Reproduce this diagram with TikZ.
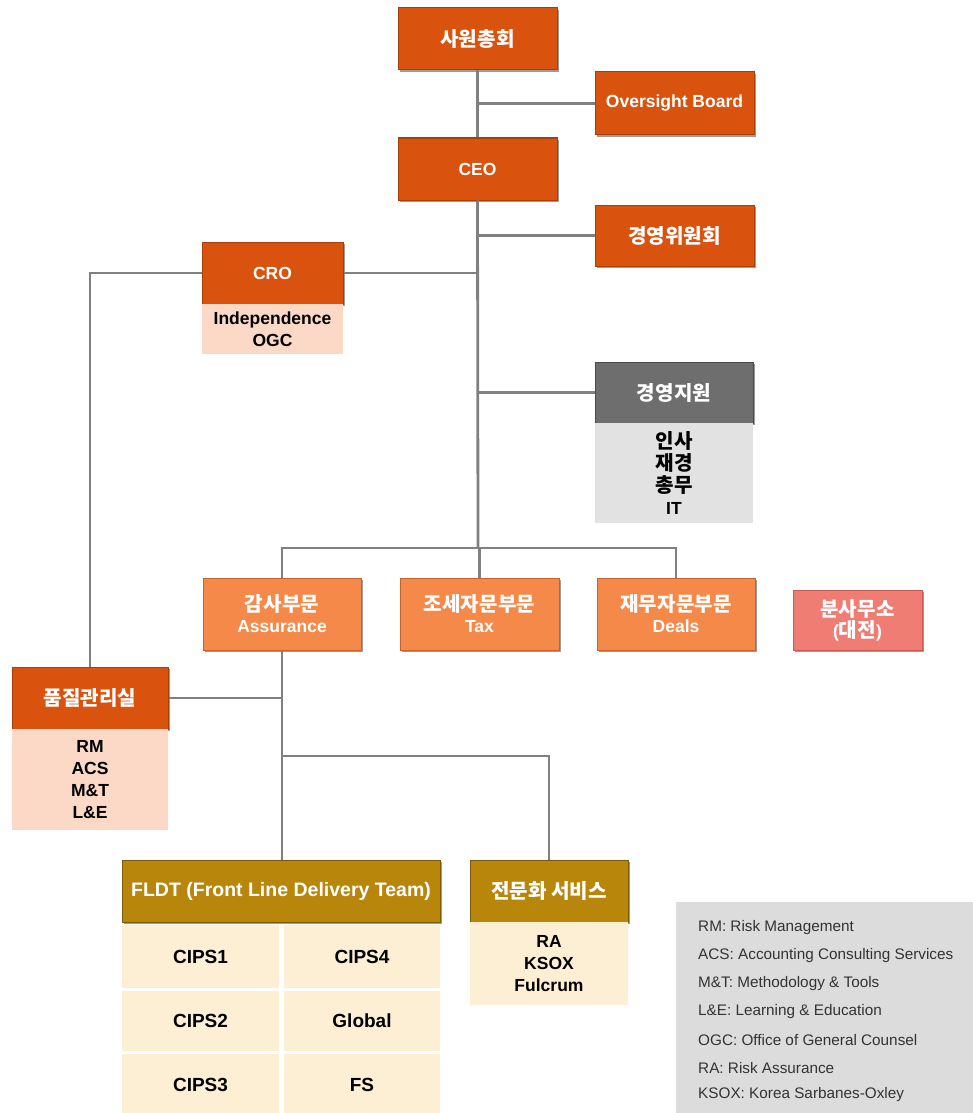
\documentclass[tikz,border=0pt]{standalone}
\usepackage{fontspec}
\setmainfont{Liberation Sans}
\newfontfamily\kr[Scale=1.15]{Noto Sans CJK KR}
\usetikzlibrary{shadows}
\definecolor{darkor}{HTML}{D9530F}
\definecolor{darkorB}{HTML}{A83E08}
\definecolor{lightor}{HTML}{F5894A}
\definecolor{lightorB}{HTML}{C8622A}
\definecolor{salmon}{HTML}{EF7D74}
\definecolor{salmonB}{HTML}{C85A55}
\definecolor{peach}{HTML}{FCD9C6}
\definecolor{gray1}{HTML}{6E6E6E}
\definecolor{gray1B}{HTML}{4A4A4A}
\definecolor{lgray}{HTML}{E2E2E2}
\definecolor{gold}{HTML}{B9860C}
\definecolor{goldB}{HTML}{7E5A05}
\definecolor{cream}{HTML}{FDEFD3}
\definecolor{legbg}{HTML}{DCDCDC}
\definecolor{conn}{HTML}{808080}
\tikzset{
  hbox/.style={rectangle, minimum width=#1, inner sep=0pt, align=center,
     text=white, font=\bfseries\fontsize{17.5}{21}\selectfont,
     drop shadow={shadow xshift=1.8pt, shadow yshift=-1.8pt, fill=black!55, opacity=.7}},
  dark/.style={hbox=#1, fill=darkor, draw=darkorB, line width=1pt},
  light/.style={hbox=#1, fill=lightor, draw=lightorB, line width=1pt},
  salm/.style={hbox=#1, fill=salmon, draw=salmonB, line width=1pt},
  grayb/.style={hbox=#1, fill=gray1, draw=gray1B, line width=1pt},
  goldb/.style={hbox=#1, fill=gold, draw=goldB, line width=1pt},
  sub/.style={rectangle, minimum width=#1, inner sep=0pt, align=center,
     text=black, font=\bfseries\fontsize{17.5}{22}\selectfont},
  cell/.style={sub=#1, fill=cream, font=\bfseries\fontsize{19}{22}\selectfont},
  conline/.style={draw=conn, line width=2.8pt},
  legtxt/.style={anchor=west, inner sep=0pt, text=black!80, font=\fontsize{15.3}{17}\selectfont}
}
\begin{document}
\begin{tikzpicture}[x=1pt,y=-1pt]
\useasboundingbox (0,0) rectangle (973,1113);
\clip (0,0) rectangle (973,1113);
\fill[white] (0,0) rectangle (973,1113);

\coordinate (bus) at (478,548);
\coordinate (qbr) at (282,700);
\coordinate (sbr) at (282,756);

% nodes
\node[dark=159pt, minimum height=62pt] (ga) at (477.5,39) {\kr 사원총회};
\node[dark=159pt, minimum height=63pt] (ob) at (674.5,103.5) {Oversight Board};
\node[dark=159pt, minimum height=62pt] (ceo) at (477.5,169) {CEO};
\node[dark=159pt, minimum height=61pt] (mc) at (674.5,235.5) {\kr 경영위원회};
\node[dark=141pt, minimum height=62pt] (cro) at (272.5,273) {CRO};
\node[sub=141pt, minimum height=50pt, fill=peach] (crosub) at (272.5,329) {Independence\\OGC};
\node[grayb=158pt, minimum height=61pt] (ms) at (674,392.5) {\kr 경영지원};
\node[sub=158pt, minimum height=100pt, fill=lgray] (mssub) at (674,473) {{\kr 인사}\\{\kr 재경}\\{\kr 총무}\\IT};
\node[light=158pt, minimum height=72pt] (aud) at (282,614) {{\kr 감사부문}\\Assurance};
\node[light=159pt, minimum height=72pt] (tax) at (479.5,614) {{\kr 조세자문부문}\\Tax};
\node[light=158pt, minimum height=72pt] (deals) at (676,614) {{\kr 재무자문부문}\\Deals};
\node[salm=129pt, minimum height=60pt] (br) at (857.5,620) {{\kr 분사무소}\\({\kr 대전})};
\node[dark=156pt, minimum height=62pt] (qm) at (90,698) {\kr 품질관리실};
\node[sub=156pt, minimum height=101pt, fill=peach] (qmsub) at (90,779.5) {RM\\ACS\\M\&T\\L\&E};
\node[goldb=318pt, minimum height=62pt, font=\bfseries\fontsize{19.5}{22}\selectfont] (fldt) at (281,891) {FLDT (Front Line Delivery Team)};
\node[goldb=158pt, minimum height=62pt] (spec) at (549,891) {\kr 전문화 서비스};
\node[sub=158pt, minimum height=83pt, fill=cream] (specsub) at (549,963.5) {RA\\KSOX\\Fulcrum};
\node[cell=157pt, minimum height=63pt] (c1) at (200.5,956.5) {CIPS1};
\node[cell=156pt, minimum height=63pt] (c4) at (362,956.5) {CIPS4};
\node[cell=157pt, minimum height=60pt] (c2) at (200.5,1021) {CIPS2};
\node[cell=156pt, minimum height=60pt] (c5) at (362,1021) {Global};
\node[cell=157pt, minimum height=62pt] (c3) at (200.5,1085) {CIPS3};
\node[cell=156pt, minimum height=62pt] (c6) at (362,1085) {FS};

% legend
\node[rectangle, fill=legbg, minimum width=304pt, minimum height=218pt, inner sep=0pt, anchor=north west] (leg) at (676,902) {};
\node[legtxt] (l1) at (698,928) {RM: Risk Management};
\node[legtxt] (l2) at (698,956) {ACS: Accounting Consulting Services};
\node[legtxt] (l3) at (698,984) {M\&T: Methodology \& Tools};
\node[legtxt] (l4) at (698,1012) {L\&E: Learning \& Education};
\node[legtxt] (l5) at (698,1040) {OGC: Office of General Counsel};
\node[legtxt] (l6) at (698,1068) {RA: Risk Assurance};
\node[legtxt] (l7) at (698,1095) {KSOX: Korea Sarbanes-Oxley};

% connectors
\draw[conline] (ga.south) -- (ceo.north);
\draw[conline] (ob.west) -- (ob.west -| ga.south);
\draw[conline] (ceo.south) -- (bus);
\draw[conline] (mc.west) -- (mc.west -| ceo.south);
\draw[conline] (cro.east) -- (cro.east -| ceo.south);
\draw[conline] (ms.west) -- (ms.west -| ceo.south);
\draw[conline] (cro.west) -| (qm.north);
\draw[conline] (aud.north) |- (bus) -| (deals.north);
\draw[conline] (tax.north) -- (tax.north |- bus);
\draw[conline] (aud.south) -- (aud.south |- fldt.north);
\draw[conline] (qm.east) -- (qm.east -| qbr);
\draw[conline] (sbr) -| (spec.north);
\end{tikzpicture}
\end{document}
